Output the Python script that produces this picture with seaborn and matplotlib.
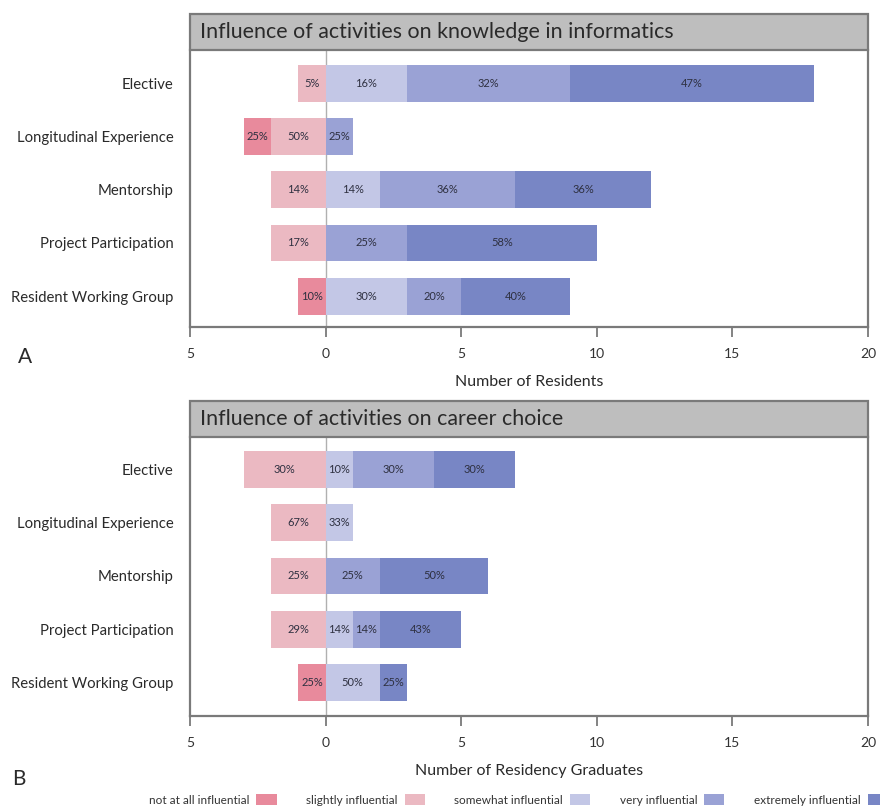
import numpy as np
import pandas as pd
import matplotlib
matplotlib.use("Agg")
import matplotlib.pyplot as plt
from matplotlib.patches import Rectangle, Patch
import seaborn as sns

# Survey categories and response levels
activities = ["Elective", "Longitudinal Experience", "Mentorship",
              "Project Participation", "Resident Working Group"]
levels = ["not at all influential", "slightly influential", "somewhat influential",
          "very influential", "extremely influential"]
level_colors = ["#E88A9C", "#EBB9C2", "#C3C7E6", "#9AA2D5", "#7886C5"]

# Panel A: influence on knowledge in informatics (number of residents)
knowledge_not_at_all = [0, 1, 0, 0, 1]
knowledge_slightly = [1, 2, 2, 2, 0]
knowledge_somewhat = [3, 0, 2, 0, 3]
knowledge_very = [6, 1, 5, 3, 2]
knowledge_extremely = [9, 0, 5, 7, 4]

# Panel B: influence on career choice (number of residency graduates)
career_not_at_all = [0, 0, 0, 0, 1]
career_slightly = [3, 2, 2, 2, 0]
career_somewhat = [1, 1, 0, 1, 2]
career_very = [3, 0, 2, 1, 0]
career_extremely = [3, 0, 4, 3, 1]

x_ticks = [-5, 0, 5, 10, 15, 20]
x_tick_labels = ["5", "0", "5", "10", "15", "20"]

sns.set_style("white")
plt.rcParams["font.family"] = ["Lato", "DejaVu Sans"]

SPINE = "#7a7a7a"
TEXT = "#2a2a2a"
BAR_H = 0.69

fig = plt.figure(figsize=(8.8, 8.08), dpi=100)
W, H = 880, 808


def fig_axes(left, top, right, bottom):
    return fig.add_axes([left / W, 1 - bottom / H, (right - left) / W, (bottom - top) / H])


def draw_panel(ax, columns, title, xlabel, ylim):
    df = pd.DataFrame(dict(zip(levels, columns)), index=activities)
    l0, l1, l2, l3, l4 = levels
    # cumulative extents drawn from the outside in, so inner segments sit on top
    layers = [
        (-(df[l0] + df[l1]), level_colors[0]),
        (-df[l1], level_colors[1]),
        (df[l2] + df[l3] + df[l4], level_colors[4]),
        (df[l2] + df[l3], level_colors[3]),
        (df[l2], level_colors[2]),
    ]
    ax.axvline(0, color="#b0b0b0", lw=1.0, zorder=0)
    for values, color in layers:
        sns.barplot(x=values.values, y=activities, orient="h", color=color,
                    saturation=1, width=BAR_H, linewidth=0, errorbar=None,
                    ax=ax, zorder=2)

    # percentage labels centred on each segment
    totals = df.sum(axis=1)
    for i, act in enumerate(activities):
        row = df.loc[act]
        tot = totals[act]
        segs = [(-(row[l0] + row[l1]), -row[l1], row[l0]),
                (-row[l1], 0, row[l1]),
                (0, row[l2], row[l2]),
                (row[l2], row[l2] + row[l3], row[l3]),
                (row[l2] + row[l3], row[l2] + row[l3] + row[l4], row[l4])]
        for a, b, c in segs:
            if c > 0:
                pct = int(round(100 * c / tot))
                ax.text((a + b) / 2, i, f"{pct}%", ha="center", va="center",
                        fontsize=8, color="#2e3040", zorder=3)

    ax.set_xlim(-5, 20)
    ax.set_ylim(*ylim)
    ax.set_xticks(x_ticks)
    ax.set_xticklabels(x_tick_labels)
    ax.set_ylabel("")
    ax.set_xlabel(xlabel, fontsize=11.5, color=TEXT, labelpad=11)
    ax.tick_params(axis="y", length=0, pad=12, labelsize=10.7, labelcolor=TEXT)
    ax.tick_params(axis="x", length=7, width=1.3, color=SPINE, direction="out",
                   pad=8, labelsize=10, labelcolor="#333333", bottom=True)
    ax.spines["top"].set_visible(False)
    for side in ("left", "right", "bottom"):
        ax.spines[side].set_color(SPINE)
        ax.spines[side].set_linewidth(1.6)

    # grey title band above the plotting area
    box_h = 36 / (ax.get_position().height * H)
    ax.add_patch(Rectangle((0, 1), 1, box_h, transform=ax.transAxes, clip_on=False,
                           facecolor="#bebebe", edgecolor=SPINE, lw=1.6, zorder=5))
    ax.text(10 / (ax.get_position().width * W), 1 + box_h / 2, title,
            transform=ax.transAxes, ha="left", va="center", fontsize=15.4,
            color=TEXT, zorder=6)


ax_a = fig_axes(190, 50, 868, 327)
draw_panel(ax_a,
           [knowledge_not_at_all, knowledge_slightly, knowledge_somewhat,
            knowledge_very, knowledge_extremely],
           "Influence of activities on knowledge in informatics",
           "Number of Residents", (4.58, -0.63))

ax_b = fig_axes(190, 437, 868, 716)
draw_panel(ax_b,
           [career_not_at_all, career_slightly, career_somewhat,
            career_very, career_extremely],
           "Influence of activities on career choice",
           "Number of Residency Graduates", (4.62, -0.6))

fig.text(18 / W, 1 - 357 / H, "A", fontsize=15, color=TEXT, ha="left", va="center")
fig.text(12 / W, 1 - 779 / H, "B", fontsize=15, color=TEXT, ha="left", va="center")

handles = [Patch(facecolor=c, edgecolor="none", label=l) for l, c in zip(levels, level_colors)]
fig.legend(handles=handles, loc="center right", bbox_to_anchor=(1.021, 1 - 800 / H),
           ncol=5, frameon=False, markerfirst=False, fontsize=8.5,
           handlelength=1.7, handleheight=1.0, handletextpad=0.6,
           columnspacing=2.5, labelcolor="#333333")

fig.savefig("out.png", dpi=100)
